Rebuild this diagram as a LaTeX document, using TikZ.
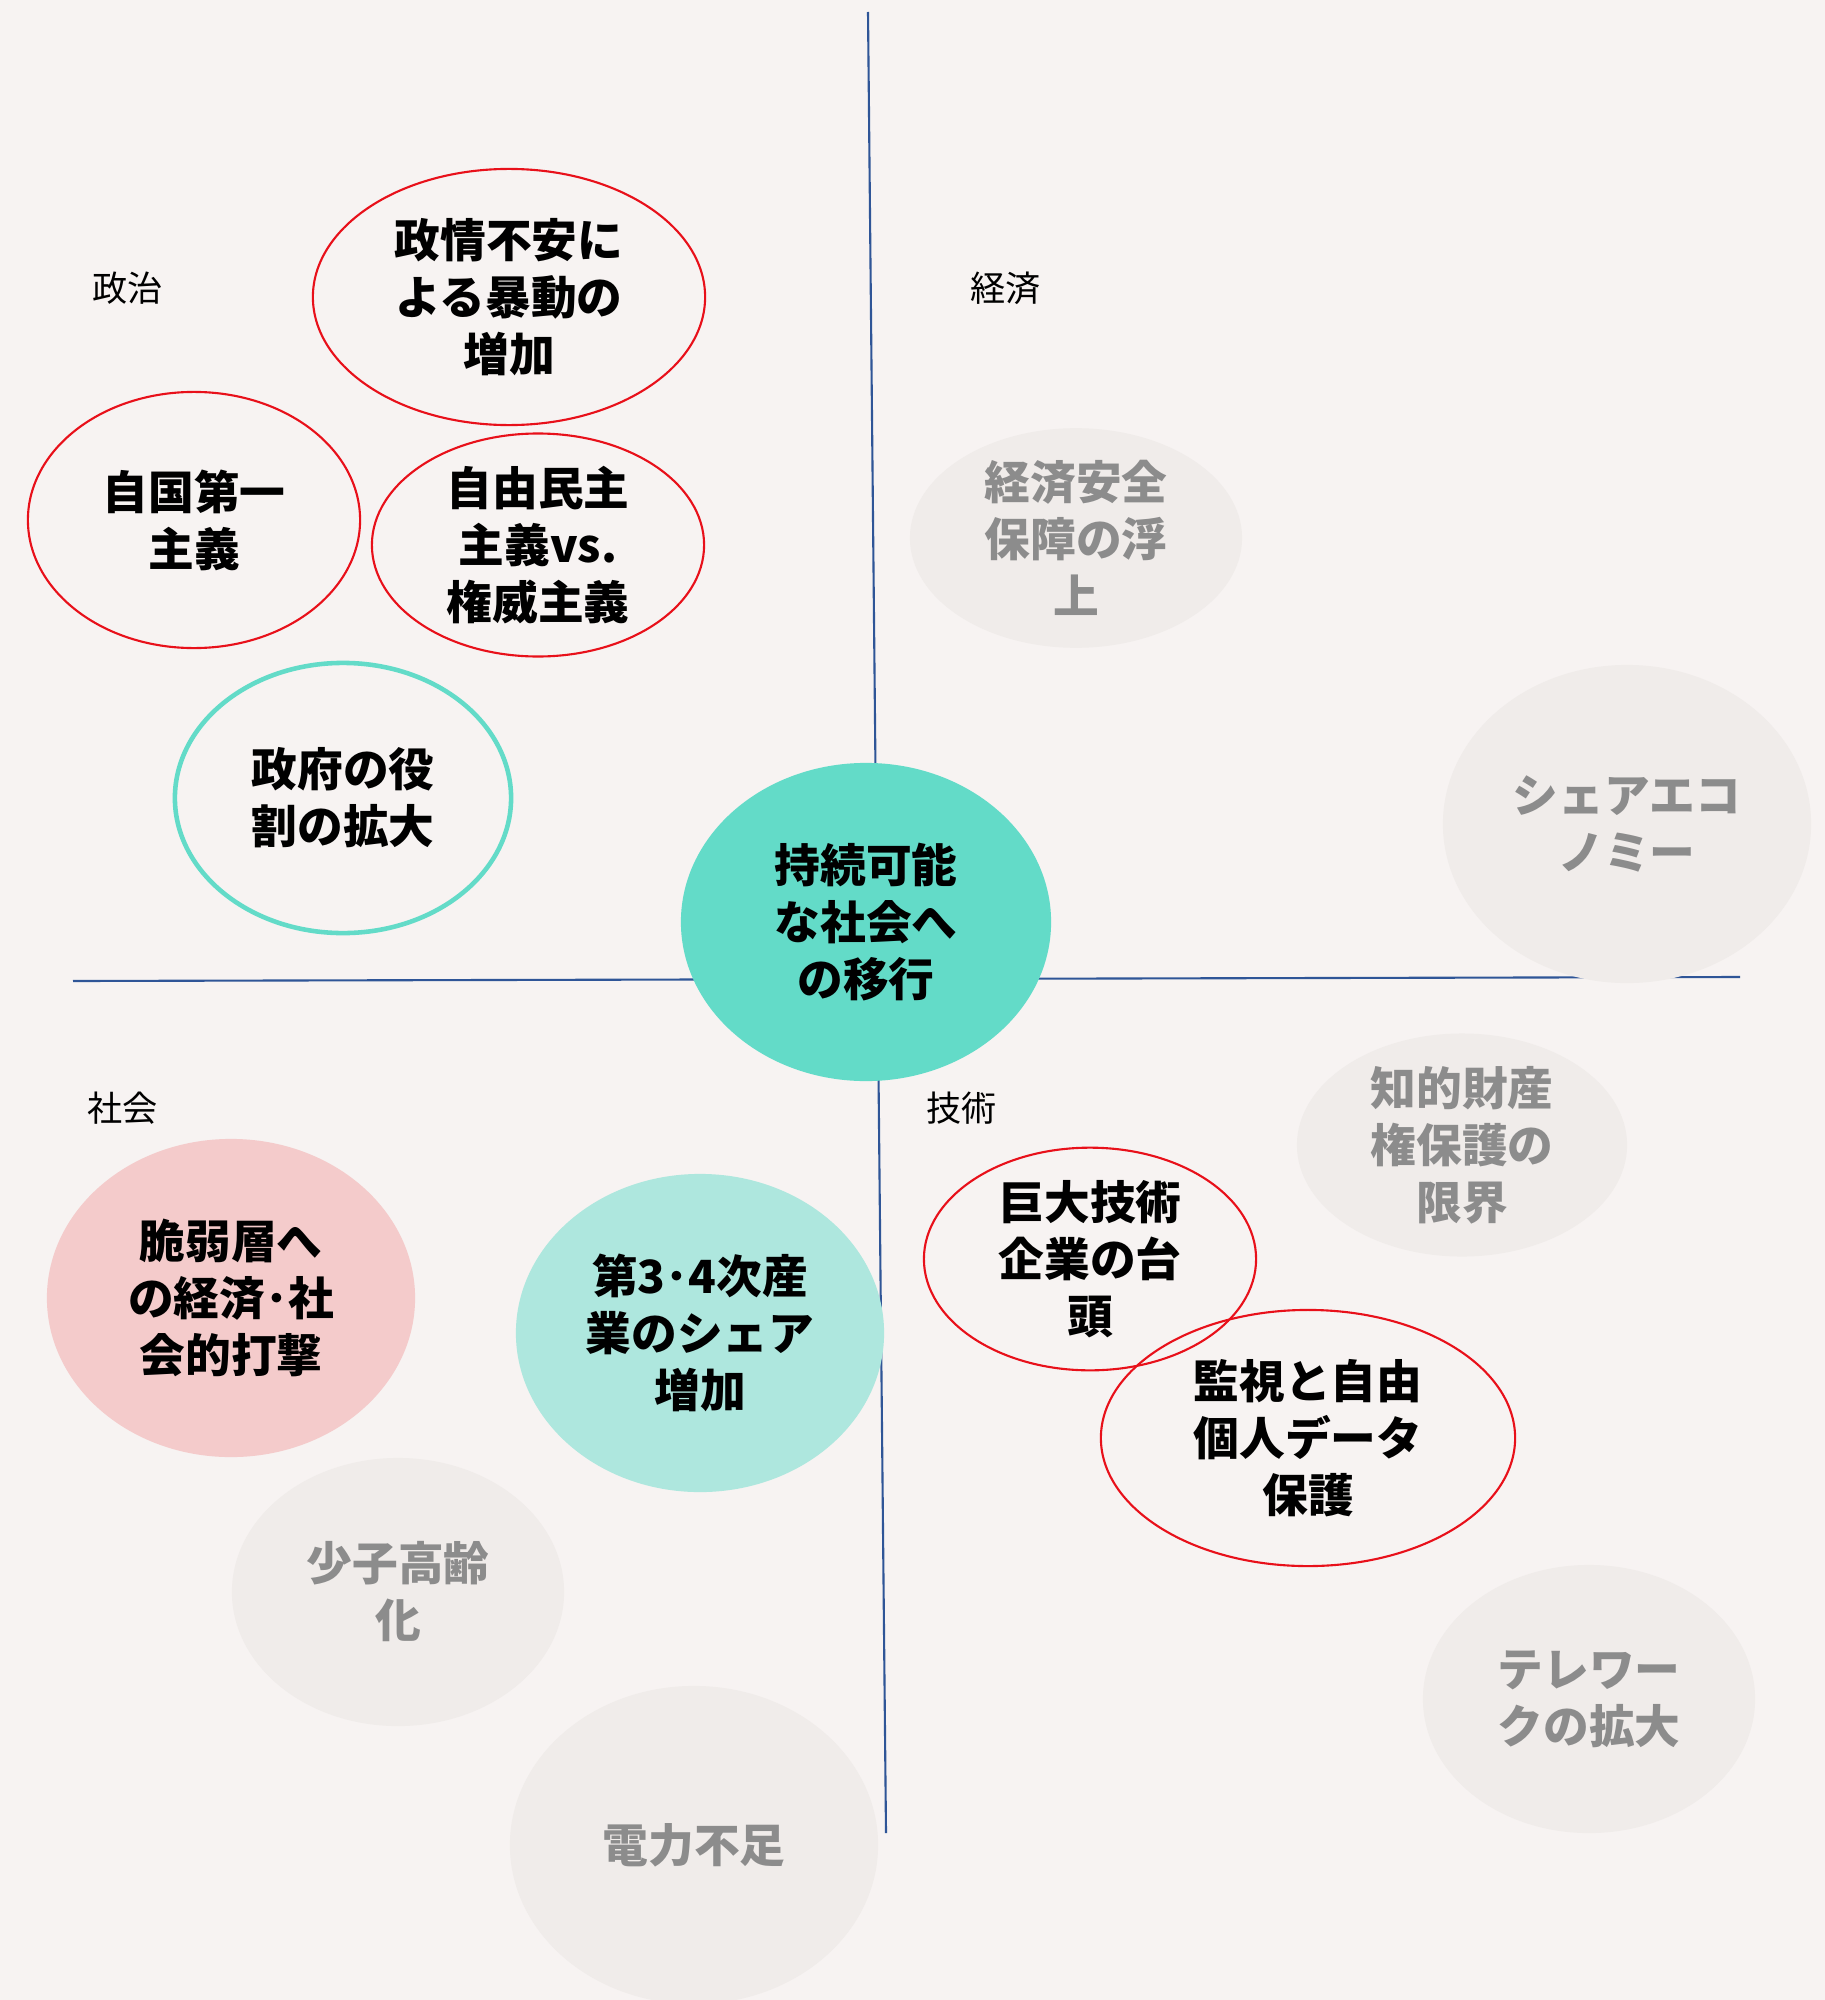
\documentclass[tikz,border=0pt]{standalone}
\usepackage{fontspec}
\usetikzlibrary{shapes}
\newfontfamily\jpfont{Noto Sans CJK JP}
\definecolor{sgrund}{HTML}{F7F3F2}
\definecolor{sachse}{HTML}{2F5597}
\definecolor{srot}{HTML}{E8101A}
\definecolor{stuerkis}{HTML}{63DBC8}
\definecolor{shell}{HTML}{AEE7DE}
\definecolor{srosa}{HTML}{F4CBCB}
\definecolor{sgrau}{HTML}{F0ECEA}
\definecolor{sschrift}{HTML}{8C8C8C}

\begin{document}
\begin{tikzpicture}[x=0.01cm,y=-0.01cm,
    every edge/.style={draw=sachse,line width=0.6pt},
    thema/.style={ellipse,inner sep=0pt,align=center,font=\jpfont\bfseries\fontsize{13}{16.2}\selectfont},
    rotring/.style={thema,draw=srot,line width=0.6pt},
    grauring/.style={thema,fill=sgrau,text=sschrift},
    feld/.style={anchor=west,font=\jpfont\fontsize{10}{12}\selectfont}]
        \fill[sgrund] (0,0) rectangle (1825,2000);
        \useasboundingbox (0,0) rectangle (1825,2000);
        \clip (0,0) rectangle (1825,2000);

        % Achsen
        \coordinate (N) at (868,12);
        \coordinate (S) at (886,1833);
        \coordinate (W) at (73,981);
        \coordinate (O) at (1740,977);

        \path (N) edge (S);
        \path (W) edge (O);

        % Quadranten
        \node[feld] (Pol) at (80,288) {政治};

        \node[feld] (Wirt) at (958,288) {経済};

        \node[feld] (Ges) at (75,1108) {社会};

        \node[feld] (Tech) at (914,1108) {技術};

        % Politik
        \node[rotring, minimum width=3.92cm, minimum height=2.56cm] (Unruhe) at (509,297) {政情不安に\\よる暴動の\\増加};

        \node[rotring, minimum width=3.32cm, minimum height=2.56cm] (Erst) at (194,520) {自国第一\\主義};

        \node[rotring, minimum width=3.32cm, minimum height=2.14cm] (Demo) at (538,545) {自由民主\\主義vs.\\権威主義};

        \node[thema, draw=stuerkis, line width=1.3pt, minimum width=3.36cm, minimum height=2.70cm] (Staat) at (343,798) {政府の役\\割の拡大};

        % Wirtschaft
        \node[grauring, minimum width=3.32cm, minimum height=2.14cm] (Sicher) at (1076,538) {経済安全\\保障の浮\\上};

        \node[grauring, minimum width=3.68cm, minimum height=3.18cm] (Share) at (1627,824) {シェアエコ\\ノミー};

        % Mitte
        \node[thema, fill=stuerkis, minimum width=3.70cm, minimum height=3.18cm] (Ziel) at (866,922) {持続可能\\な社会へ\\の移行};

        % Technik
        \node[grauring, minimum width=3.30cm, minimum height=2.14cm] (Patent) at (1462,1145) {知的財産\\権保護の\\限界};

        \node[rotring, minimum width=3.32cm, minimum height=2.14cm] (Konzern) at (1090,1259) {巨大技術\\企業の台\\頭};

        \node[rotring, minimum width=4.14cm, minimum height=2.56cm] (Daten) at (1308,1438) {監視と自由\\個人データ\\保護};

        \node[grauring, minimum width=3.32cm, minimum height=2.68cm] (Remote) at (1589,1699) {テレワー\\クの拡大};

        % Gesellschaft
        \node[thema, fill=srosa, minimum width=3.68cm, minimum height=3.18cm] (Schwach) at (231,1298) {脆弱層へ\\の経済･社\\会的打撃};

        \node[thema, fill=shell, minimum width=3.68cm, minimum height=3.18cm] (Sektor) at (700,1333) {第3･4次産\\業のシェア\\増加};

        \node[grauring, minimum width=3.32cm, minimum height=2.68cm] (Alter) at (398,1592) {少子高齢\\化};

        \node[grauring, minimum width=3.68cm, minimum height=3.18cm] (Strom) at (694,1845) {電力不足};

    \end{tikzpicture}
\end{document}
